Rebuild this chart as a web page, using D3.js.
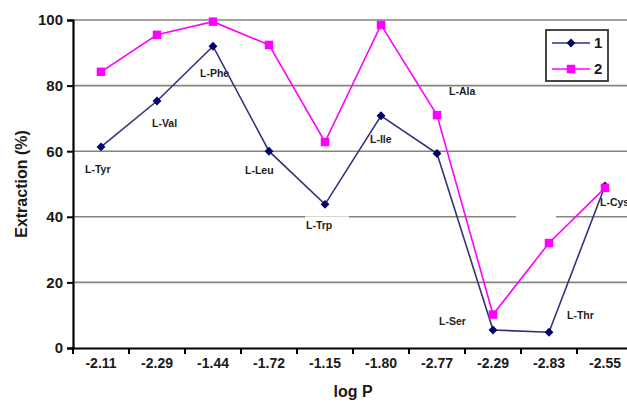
<!DOCTYPE html>
<html>
<head>
<meta charset="utf-8">
<script src="https://cdn.jsdelivr.net/npm/d3@7"></script>
<style>
  body { margin: 0; background: #fff; }
  text { font-family: "Liberation Sans", Arial, sans-serif; font-weight: bold; }
</style>
</head>
<body>
<svg id="chart"></svg>
<script>
const categories = ["-2.11", "-2.29", "-1.44", "-1.72", "-1.15", "-1.80", "-2.77", "-2.29", "-2.83", "-2.55"];
const aminoAcids = ["L-Tyr", "L-Val", "L-Phe", "L-Leu", "L-Trp", "L-Ile", "L-Ala", "L-Ser", "L-Thr", "L-Cys"];
const series1 = [61.3, 75.3, 92, 60, 43.8, 70.8, 59.3, 5.5, 4.8, 49.4];
const series2 = [84.2, 95.5, 99.5, 92.4, 62.8, 98.5, 71, 10.2, 32, 48.8];
const yTicks = [0, 20, 40, 60, 80, 100];

// label offsets relative to the series-1 point (px)
const labelOffsets = [[-16, 26], [-5, 26], [-13, 31], [-24, 23], [-19, 25], [-11, 27], [12, -58], [-54, -5], [18, -13], [-5, 20]];

const WIDTH = 627, HEIGHT = 402;
const margin = { top: 20, left: 73, bottom: 54 };
const plotW = 560;

const svg = d3.select("#chart")
    .attr("width", WIDTH)
    .attr("height", HEIGHT);

// use index as domain so duplicated "-2.29" stays separate
const x = d3.scaleBand()
    .domain(d3.range(categories.length))
    .range([margin.left, margin.left + plotW]);

const y = d3.scaleLinear()
    .domain([0, 100])
    .range([HEIGHT - margin.bottom, margin.top]);

const cx = i => x(i) + x.bandwidth() / 2;

// gridlines
svg.append("g")
    .selectAll("line")
    .data(yTicks.filter(d => d > 0))
    .join("line")
    .attr("x1", margin.left)
    .attr("x2", WIDTH)
    .attr("y1", d => y(d))
    .attr("y2", d => y(d))
    .style("stroke", "#858578")
    .style("stroke-width", 1.6);

// y axis
const yAxis = svg.append("g")
    .attr("transform", `translate(${margin.left},0)`)
    .call(d3.axisLeft(y).tickValues(yTicks).tickSize(6).tickPadding(4));
yAxis.select(".domain").style("stroke", "#000").style("stroke-width", 2.2);
yAxis.selectAll(".tick line").style("stroke", "#000").style("stroke-width", 2);
yAxis.selectAll(".tick text")
    .style("font-size", "15px")
    .style("fill", "#1a1a1a")
    .style("font-family", "Liberation Sans, Arial, sans-serif")
    .style("font-weight", "bold");

// x axis
const xAxis = svg.append("g")
    .attr("transform", `translate(0,${y(0)})`)
    .call(d3.axisBottom(x).tickFormat(i => categories[i]).tickSize(0).tickPadding(10));
xAxis.select(".domain").style("stroke", "#000").style("stroke-width", 2.2);
xAxis.selectAll(".tick text")
    .style("font-size", "14px")
    .style("fill", "#1a1a1a")
    .style("font-family", "Liberation Sans, Arial, sans-serif")
    .style("font-weight", "bold");

// ticks at band boundaries
svg.append("g")
    .selectAll("line")
    .data(d3.range(categories.length + 1))
    .join("line")
    .attr("x1", i => margin.left + i * x.bandwidth())
    .attr("x2", i => margin.left + i * x.bandwidth())
    .attr("y1", y(0))
    .attr("y2", y(0) + 6)
    .style("stroke", "#000")
    .style("stroke-width", 2);

// white gap in the 40 gridline near L-Thr column
svg.append("rect")
    .attr("x", cx(7) + 23).attr("y", y(40) - 3)
    .attr("width", 40).attr("height", 6)
    .style("fill", "#fff");

// annotations (white boxes hide parts of the gridlines)
const labels = svg.append("g");
aminoAcids.forEach((name, i) => {
    const lx = cx(i) + labelOffsets[i][0];
    const ly = y(series1[i]) + labelOffsets[i][1];
    if (name === "L-Trp") {
        labels.append("rect")
            .attr("x", lx - 1).attr("y", ly - 13)
            .attr("width", 44).attr("height", 18)
            .style("fill", "#fff");
    }
    labels.append("text")
        .attr("x", lx)
        .attr("y", ly)
        .style("font-size", "10.5px")
        .style("fill", "#222")
        .text(name);
});

const line = d3.line()
    .x((d, i) => cx(i))
    .y(d => y(d));

const s1Color = "#33337a", s1Mark = "#000066", s2Color = "#ff00ff";

svg.append("path")
    .datum(series2)
    .attr("d", line)
    .style("fill", "none")
    .style("stroke", s2Color)
    .style("stroke-width", 1.6);

svg.append("path")
    .datum(series1)
    .attr("d", line)
    .style("fill", "none")
    .style("stroke", s1Color)
    .style("stroke-width", 1.6);

const diamond = d3.symbol().type(d3.symbolDiamond2).size(50);
const square = d3.symbol().type(d3.symbolSquare).size(72);

svg.append("g")
    .selectAll("path")
    .data(series1)
    .join("path")
    .attr("transform", (d, i) => `translate(${cx(i)},${y(d)})`)
    .attr("d", diamond)
    .style("fill", s1Mark);

svg.append("g")
    .selectAll("path")
    .data(series2)
    .join("path")
    .attr("transform", (d, i) => `translate(${cx(i)},${y(d)})`)
    .attr("d", square)
    .style("fill", s2Color);

// axis titles
svg.append("text")
    .attr("transform", `translate(27,${(y(0) + y(100)) / 2}) rotate(-90)`)
    .attr("text-anchor", "middle")
    .style("font-size", "16px")
    .style("fill", "#1a1a1a")
    .text("Extraction (%)");

svg.append("text")
    .attr("x", cx(4) + 28)
    .attr("y", 397)
    .attr("text-anchor", "middle")
    .style("font-size", "16px")
    .style("fill", "#1a1a1a")
    .text("log P");

// legend
const legend = svg.append("g").attr("transform", "translate(546,30)");
legend.append("rect")
    .attr("width", 62).attr("height", 51)
    .style("fill", "#fff")
    .style("stroke", "#333")
    .style("stroke-width", 1.8);

const legendItems = [
    { name: "1", color: s1Color, mark: s1Mark, sym: diamond },
    { name: "2", color: s2Color, mark: s2Color, sym: square }
];
legendItems.forEach((d, i) => {
    const ly = 13 + i * 26;
    legend.append("line")
        .attr("x1", 6).attr("x2", 44)
        .attr("y1", ly).attr("y2", ly)
        .style("stroke", d.color)
        .style("stroke-width", 1.6);
    legend.append("path")
        .attr("transform", `translate(25,${ly})`)
        .attr("d", d.sym)
        .style("fill", d.mark);
    legend.append("text")
        .attr("x", 48).attr("y", ly + 5)
        .style("font-size", "15px")
        .style("fill", "#1a1a1a")
        .text(d.name);
});
</script>
</body>
</html>
